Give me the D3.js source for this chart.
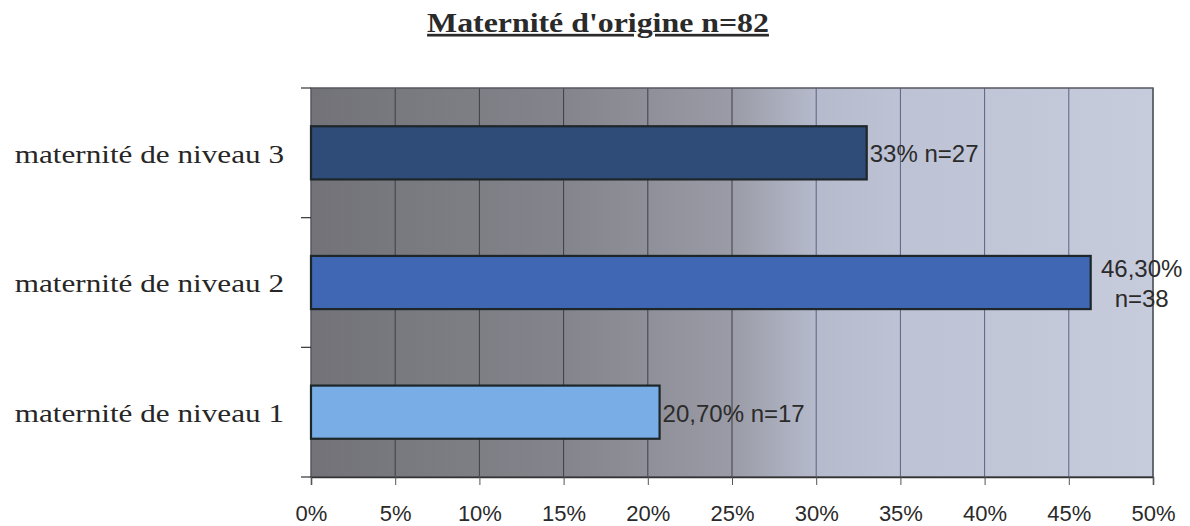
<!DOCTYPE html>
<html>
<head>
<meta charset="utf-8">
<script src="https://cdn.jsdelivr.net/npm/d3@7"></script>
<style>
  body { margin: 0; background: #fff; }
  svg { display: block; }
</style>
</head>
<body>
<div id="chart"></div>
<script>
// data
let categories = ["maternité de niveau 3", "maternité de niveau 2", "maternité de niveau 1"];
let values = [0.33, 0.463, 0.207];
let labels = [["33% n=27"], ["46,30%", "n=38"], ["20,70% n=17"]];
let barColors = ["#2f4b78", "#3f67b3", "#79ade6"];
let xTicks = [0, 0.05, 0.1, 0.15, 0.2, 0.25, 0.3, 0.35, 0.4, 0.45, 0.5];

let margin = {top: 88, right: 37, bottom: 49, left: 311};
let width = 1190 - margin.left - margin.right,
    height = 526 - margin.top - margin.bottom;

let svg = d3.select("#chart").append("svg")
    .attr("width", 1190)
    .attr("height", 526);

// title (the scan is stretched sideways, so the serif text is widened a bit)
svg.append("g")
    .attr("transform", "translate(598,32) scale(1.18,1)")
    .append("text")
    .attr("text-anchor", "middle")
    .style("font-family", "'Liberation Serif', 'Times New Roman', serif")
    .style("font-weight", "bold")
    .style("font-size", "27px")
    .style("text-decoration", "underline")
    .style("fill", "#2a2a2a")
    .text("Maternité d'origine n=82");

let g = svg.append("g")
    .attr("transform", "translate(" + margin.left + "," + margin.top + ")");

let x = d3.scaleLinear().domain([0, 0.5]).range([0, width]);
let y = d3.scaleBand().domain(categories).range([0, height]);

// background gradient, grey on the left, pale lavender on the right
let defs = svg.append("defs");
let grad = defs.append("linearGradient").attr("id", "bg").attr("x1", "0").attr("x2", "1").attr("y1", "0").attr("y2", "0");
[[0, "#727278"], [0.3, "#84848c"], [0.5, "#9a9ba6"], [0.6, "#b5bacc"], [0.7, "#bdc2d4"], [1, "#c7ccdd"]]
    .forEach(function (s) {
        grad.append("stop").attr("offset", s[0]).attr("stop-color", s[1]);
    });

g.append("rect")
    .attr("width", width)
    .attr("height", height)
    .attr("fill", "url(#bg)");

// vertical gridlines
g.append("g")
    .selectAll("line")
    .data(xTicks.slice(1))
    .enter().append("line")
    .attr("x1", function (d) { return x(d); })
    .attr("x2", function (d) { return x(d); })
    .attr("y1", 0)
    .attr("y2", height)
    .style("stroke", function (d) { return d < 0.3 ? "#3e4047" : "#5a6380"; })
    .style("stroke-width", 1);

// plot border
g.append("rect")
    .attr("width", width)
    .attr("height", height)
    .attr("fill", "none")
    .style("stroke", "#55585f")
    .style("stroke-width", 1.5);

// bars
let barH = y.bandwidth() * 0.41;
g.selectAll(".bar")
    .data(values)
    .enter().append("rect")
    .attr("class", "bar")
    .attr("x", 0)
    .attr("y", function (d, i) { return y(categories[i]) + (y.bandwidth() - barH) / 2; })
    .attr("width", function (d) { return x(d); })
    .attr("height", barH)
    .attr("fill", function (d, i) { return barColors[i]; })
    .style("stroke", "#1d2629")
    .style("stroke-width", 2.2);

// data labels
let lbl = g.selectAll(".lbl")
    .data(values)
    .enter().append("text")
    .attr("class", "lbl")
    .attr("x", function (d) { return x(d) + 3; })
    .attr("y", function (d, i) { return y(categories[i]) + y.bandwidth() / 2; })
    .style("font-family", "'Liberation Sans', Arial, sans-serif")
    .style("font-size", "24px")
    .style("fill", "#2b2b2b");

lbl.each(function (d, i) {
    let t = d3.select(this);
    let lines = labels[i];
    if (lines.length === 1) {
        t.append("tspan").attr("dy", "0.4em").text(lines[0]);
    } else {
        let cx = x(d) + 51;
        t.attr("text-anchor", "middle");
        t.append("tspan").attr("x", cx).attr("dy", "-0.25em").text(lines[0]);
        t.append("tspan").attr("x", cx).attr("dy", "1.25em").text(lines[1]);
    }
});

// y axis: category labels and tick marks at band edges
let yAxis = g.append("g");
yAxis.selectAll("line")
    .data(categories.concat(["end"]))
    .enter().append("line")
    .attr("x1", -10)
    .attr("x2", 0)
    .attr("y1", function (d, i) { return i * y.step(); })
    .attr("y2", function (d, i) { return i * y.step(); })
    .style("stroke", "#333")
    .style("stroke-width", 1.2);

yAxis.selectAll("g.cat")
    .data(categories)
    .enter().append("g")
    .attr("class", "cat")
    .attr("transform", function (d) { return "translate(-27," + (y(d) + y.bandwidth() / 2) + ") scale(1.2,1)"; })
    .append("text")
    .attr("dy", "0.38em")
    .attr("text-anchor", "end")
    .style("font-family", "'Liberation Serif', 'Times New Roman', serif")
    .style("font-size", "26px")
    .style("fill", "#262626")
    .text(function (d) { return d; });

// x axis
let xAxis = g.append("g")
    .attr("transform", "translate(0," + height + ")")
    .call(d3.axisBottom(x)
        .tickValues(xTicks)
        .tickFormat(d3.format(".0%"))
        .tickSize(8)
        .tickPadding(20));

xAxis.select(".domain").style("stroke", "#333").style("stroke-width", 1.5);
xAxis.selectAll(".tick line").style("stroke", "#555");
xAxis.selectAll(".tick text")
    .style("font-family", "'Liberation Sans', Arial, sans-serif")
    .style("font-size", "22px")
    .style("fill", "#2a2a2a");
</script>
</body>
</html>
